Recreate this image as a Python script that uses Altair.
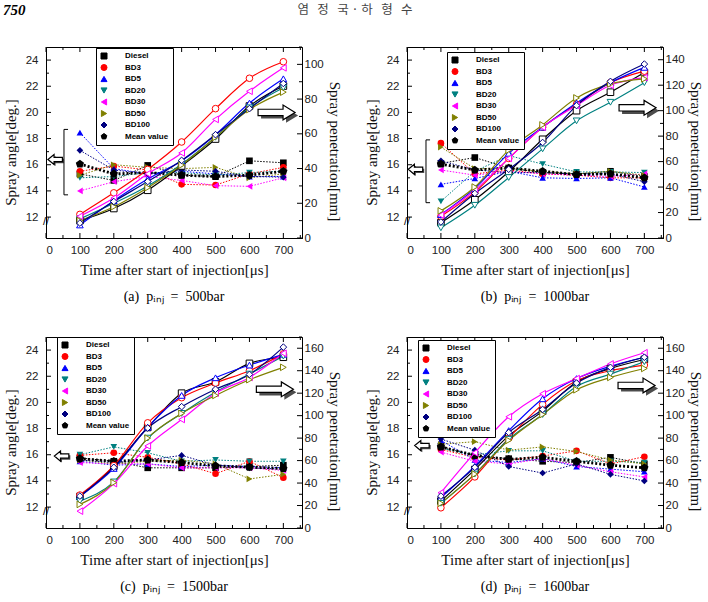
import altair as alt
import pandas as pd

TIME = [100, 200, 300, 400, 500, 600, 700]
X_TICKS = [0, 100, 200, 300, 400, 500, 600, 700]
X_MINOR = [50, 150, 250, 350, 450, 550, 650, 750]
ANGLE_TICKS = [12, 14, 16, 18, 20, 22, 24]
ANGLE_MINOR = [13, 15, 17, 19, 21, 23]
SERIES = ["Diesel", "BD3", "BD5", "BD20", "BD30", "BD50", "BD100", "Mean value"]
COLORS = ["#000000", "#ff0000", "#0000ff", "#008080", "#ff00ff", "#808000", "#000080", "#000000"]
PENT = "M0,-1L0.951,-0.309L0.588,0.809L-0.588,0.809L-0.951,-0.309Z"
SHAPES = ["square", "circle", "triangle-up", "triangle-down", "triangle-left",
          "triangle-right", "diamond", PENT]

# ---- (a) 500 bar ----
ANG_A = {
    "Diesel": [15.3, 14.8, 15.95, 15.2, 15.1, 16.3, 16.15],
    "BD3": [15.5, 15.9, 15.6, 14.5, 14.45, 15.3, 15.8],
    "BD5": [18.45, 15.7, 15.3, 15.5, 15.3, 15.1, 15.1],
    "BD20": [15.0, 15.1, 15.4, 15.4, 15.2, 15.4, 15.5],
    "BD30": [14.0, 14.7, 15.1, 14.8, 14.4, 14.35, 15.0],
    "BD50": [15.2, 16.0, 15.8, 15.7, 15.8, 15.0, 15.3],
    "BD100": [17.1, 15.6, 15.3, 15.6, 15.5, 15.1, 15.05],
}
MEAN_A = [16.05, 15.3, 15.4, 15.2, 15.1, 15.2, 15.5]
PEN_A = {
    "Diesel": [10, 17, 27.5, 41.5, 57, 76, 87.5],
    "BD3": [13.6, 26, 39.5, 55.3, 74.5, 92, 101.5],
    "BD5": [7.5, 21.5, 34, 44.5, 59.5, 77.7, 91.7],
    "BD20": [11, 20, 30, 42.5, 58, 75, 86.5],
    "BD30": [12.5, 23, 37, 49, 68.3, 84.5, 98],
    "BD50": [10, 18, 29, 42, 58, 74, 84],
    "BD100": [8.6, 21, 32.5, 44.7, 59.5, 74.5, 89],
}
# ---- (b) 1000 bar ----
ANG_B = {
    "Diesel": [16.1, 16.55, 15.75, 15.4, 15.3, 15.5, 15.1],
    "BD3": [17.65, 15.3, 15.6, 15.3, 15.2, 15.0, 15.0],
    "BD5": [14.5, 14.95, 15.5, 15.0, 14.95, 15.0, 14.3],
    "BD20": [13.2, 15.5, 16.7, 16.05, 15.45, 15.45, 15.4],
    "BD30": [15.6, 15.2, 15.5, 15.3, 15.2, 15.1, 15.3],
    "BD50": [17.35, 15.7, 15.7, 15.5, 15.3, 15.5, 15.2],
    "BD100": [16.3, 15.6, 15.4, 15.4, 15.3, 15.3, 14.7],
}
MEAN_B = [16.05, 15.6, 15.75, 15.5, 15.25, 15.3, 15.0]
PEN_B = {
    "Diesel": [12, 30, 52, 77.5, 100, 114.5, 130],
    "BD3": [17, 36, 62.5, 87, 105, 122, 131],
    "BD5": [18.4, 39, 66.5, 87, 106, 122, 134],
    "BD20": [8, 25.7, 47.5, 70, 92, 106.6, 122],
    "BD30": [18, 37.5, 62.5, 87, 104, 120, 126],
    "BD50": [21.3, 40, 69, 88.8, 110, 121, 125],
    "BD100": [12.6, 35, 54, 75, 104, 123, 136.6],
}
# ---- (c) 1500 bar ----
ANG_C = {
    "Diesel": [15.75, 15.5, 15.0, 15.0, 15.0, 15.1, 15.2],
    "BD3": [15.95, 16.15, 15.8, 15.3, 14.55, 15.5, 14.25],
    "BD5": [15.5, 15.2, 15.3, 15.1, 15.2, 15.1, 15.0],
    "BD20": [16.0, 16.6, 16.15, 15.5, 15.6, 15.5, 15.5],
    "BD30": [15.4, 15.3, 15.3, 15.0, 15.0, 15.0, 14.8],
    "BD50": [15.6, 15.3, 15.5, 15.6, 15.3, 14.15, 14.5],
    "BD100": [15.6, 15.4, 15.6, 15.95, 15.2, 15.0, 14.9],
}
MEAN_C = [15.7, 15.5, 15.6, 15.4, 15.15, 15.05, 14.95]
PEN_C = {
    "Diesel": [28, 55, 89.5, 120, 130, 146.5, 152],
    "BD3": [29.3, 55.5, 93.6, 116, 129, 140, 155],
    "BD5": [28, 53, 89.7, 118, 133.7, 145, 154.6],
    "BD20": [24, 41, 80, 102, 121, 137, 153],
    "BD30": [15, 39.5, 73, 96.6, 120, 134, 155.5],
    "BD50": [21, 40.4, 80, 102, 118, 132, 143],
    "BD100": [28.4, 54, 89, 108, 123.5, 136.7, 161],
}
# ---- (d) 1600 bar ----
ANG_D = {
    "Diesel": [16.65, 15.9, 15.7, 15.5, 15.4, 15.8, 15.3],
    "BD3": [16.4, 15.8, 15.6, 15.9, 16.3, 15.3, 15.85],
    "BD5": [17.1, 15.6, 15.4, 15.7, 15.1, 14.9, 14.7],
    "BD20": [16.5, 16.0, 16.3, 16.3, 15.5, 15.5, 15.4],
    "BD30": [16.2, 15.5, 15.3, 15.7, 15.2, 14.7, 14.3],
    "BD50": [16.8, 17.0, 16.35, 16.6, 16.25, 15.6, 15.3],
    "BD100": [17.2, 16.35, 15.1, 14.6, 15.3, 14.5, 14.0],
}
MEAN_D = [16.6, 15.95, 15.65, 15.8, 15.5, 15.2, 15.0]
PEN_D = {
    "Diesel": [24, 52, 82, 104, 130, 142, 150],
    "BD3": [18, 45.5, 80, 110, 131, 140, 145],
    "BD5": [27, 55, 86.7, 115, 133, 144, 152],
    "BD20": [22, 48, 79, 101, 126, 137, 148],
    "BD30": [31.4, 67, 99, 119.5, 133, 146, 156],
    "BD50": [22, 48, 78, 101, 123, 134, 142],
    "BD100": [28.4, 54, 85, 105.5, 129, 143, 152],
}

NB = "\u00a0"
CAPTIONS = [f"(a){NB*2}pᵢₙⱼ{NB*2}={NB*2}500bar", f"(b){NB*2}pᵢₙⱼ{NB*2}={NB*2}1000bar",
            f"(c){NB*2}pᵢₙⱼ{NB*2}={NB*2}1500bar", f"(d){NB*2}pᵢₙⱼ{NB*2}={NB*2}1600bar"]
HEADER_NUM = "750"
HEADER_NAMES = f"염{NB*3}정{NB*3}국{NB}·{NB}하{NB*3}형{NB*3}수"
PEN_TOPS = [110, 150, 170, 170]
PEN_TICKS = [[0, 20, 40, 60, 80, 100], [0, 20, 40, 60, 80, 100, 120, 140],
             list(range(0, 161, 20)), list(range(0, 161, 20))]
PEN_MINOR = [[10, 30, 50, 70, 90, 110], [10, 30, 50, 70, 90, 110, 130, 150],
             list(range(10, 171, 20)), list(range(10, 171, 20))]

RARROW = "M-1,-0.17L0.35,-0.17L0.35,-0.4L1,0L0.35,0.4L0.35,0.17L-1,0.17Z"
LARROW = "M1,-0.3L-0.15,-0.3L-0.15,-0.7L-1,0L-0.15,0.7L-0.15,0.3L1,0.3Z"

W, H = 256, 191


def long_df(d):
    rows = []
    for s, vals in d.items():
        for t, v in zip(TIME, vals):
            rows.append({"t": t, "s": s, "v": v})
    return pd.DataFrame(rows)


def tick_rules(vals, field, enc):
    df = pd.DataFrame({field: vals})
    return alt.Chart(df).mark_rule(color="black", strokeWidth=1).encode(**enc)


def panel(ang, mean, pen, pen_top, pen_ticks, pen_minor, caption, leg_xy, larrow,
          rarrow, bracket, header=False):
    adf = long_df(ang)
    mdf = pd.DataFrame({"t": TIME, "s": "Mean value", "v": mean})
    pdf = long_df(pen)

    x = alt.X("t:Q", scale=alt.Scale(domain=[0, 755], nice=False),
              axis=alt.Axis(values=X_TICKS, title="Time after start of injection[μs]",
                            titlePadding=7, labelPadding=6))
    leg = alt.Legend(title=None, orient="none", legendX=leg_xy[0], legendY=leg_xy[1])
    color = alt.Color("s:N", scale=alt.Scale(domain=SERIES, range=COLORS), legend=leg)
    shape = alt.Shape("s:N", scale=alt.Scale(domain=SERIES, range=SHAPES), legend=leg)
    ya = alt.Y("v:Q", scale=alt.Scale(domain=[10.4, 25.0], nice=False, zero=False),
               axis=alt.Axis(values=ANGLE_TICKS, orient="left", title="Spray angle[deg.]",
                             titlePadding=7, labelPadding=8, titleY=105))
    yp = alt.Y("v:Q", scale=alt.Scale(domain=[0, pen_top], nice=False),
               axis=alt.Axis(values=pen_ticks, orient="right",
                             title="Spray penetration[mm]", titlePadding=3, labelPadding=2,
                             titleY=104))

    a_lines = alt.Chart(adf).mark_line(strokeDash=[1.5, 1.5], strokeWidth=1).encode(
        x=x, y=ya, color=color)
    a_pts = alt.Chart(adf).mark_point(filled=True, size=44, opacity=1).encode(
        x=x, y=ya, color=color, shape=shape)
    m_line = alt.Chart(mdf).mark_line(strokeDash=[2, 2], strokeWidth=2.8).encode(
        x=x, y=ya, color=color)
    m_pts = alt.Chart(mdf).mark_point(filled=True, size=75, opacity=1).encode(
        x=x, y=ya, color=color, shape=shape)

    # inward tick marks
    ticks = [
        tick_rules(ANGLE_TICKS, "v", dict(y=ya, x=alt.value(0), x2=alt.value(5))),
        tick_rules(ANGLE_MINOR, "v", dict(y=ya, x=alt.value(0), x2=alt.value(3))),
        tick_rules(X_TICKS, "t", dict(x=x, y=alt.value(H), y2=alt.value(H - 5))),
        tick_rules(X_MINOR, "t", dict(x=x, y=alt.value(H), y2=alt.value(H - 3))),
        tick_rules(X_TICKS, "t", dict(x=x, y=alt.value(0), y2=alt.value(5))),
        tick_rules(X_MINOR, "t", dict(x=x, y=alt.value(0), y2=alt.value(3))),
    ]

    # annotation arrows / bracket (in data coords)
    la = pd.DataFrame({"t": [larrow[0]], "v": [larrow[1]]})
    ra = pd.DataFrame({"t": [rarrow[0]], "v": [rarrow[1]]})
    la_sh = alt.Chart(la).mark_point(shape=LARROW, size=210, filled=True, color="black",
                                     xOffset=1.5, yOffset=1.5).encode(x=x, y=ya)
    la_fg = alt.Chart(la).mark_point(shape=LARROW, size=210, filled=True, fill="white",
                                     stroke="black", strokeWidth=1.2, opacity=1).encode(x=x, y=ya)
    ra_sh = alt.Chart(ra).mark_point(shape=RARROW, size=1370, filled=True, color="black",
                                     xOffset=3, yOffset=3).encode(x=x, y=ya)
    ra_fg = alt.Chart(ra).mark_point(shape=RARROW, size=1370, filled=True, fill="white",
                                     stroke="black", strokeWidth=1.2, opacity=1).encode(x=x, y=ya)
    brk = alt.Chart(pd.DataFrame({"t": [0], "v": [11.65], "txt": ["//"]})).mark_text(
        fontSize=11, font="Liberation Sans", color="black").encode(x=x, y=ya, text="txt:N")

    layers = ticks + [a_lines, m_line, a_pts, m_pts, la_sh, la_fg, ra_sh, ra_fg, brk]
    if bracket is not None:
        bx, lo, hi = bracket
        bdf = pd.DataFrame({"t": [bx, bx, bx], "t2": [bx, bx + 12, bx + 12],
                            "v": [lo, hi, lo], "v2": [hi, hi, lo]})
        layers.append(alt.Chart(bdf).mark_rule(color="black", strokeWidth=1).encode(
            x=x, x2="t2:Q", y=ya, y2="v2:Q"))

    cap = alt.Chart(pd.DataFrame({"c": [caption]})).mark_text(
        font="Liberation Serif", fontSize=14, align="center", baseline="middle",
        color="black").encode(x=alt.value(W / 2), y=alt.value(250), text="c:N")
    layers.append(cap)
    if header:
        h1 = alt.Chart(pd.DataFrame({"c": [HEADER_NUM]})).mark_text(
            font="Liberation Serif", fontSize=15, fontWeight="bold", fontStyle="italic",
            align="left", baseline="middle", color="black").encode(
            x=alt.value(-43), y=alt.value(-37), text="c:N")
        h2 = alt.Chart(pd.DataFrame({"c": [HEADER_NAMES]})).mark_text(
            font="Noto Sans CJK KR", fontSize=12.5, align="center", baseline="middle",
            color="#444444").encode(x=alt.value(309), y=alt.value(-37), text="c:N")
        layers += [h1, h2]

    ang_layer = alt.layer(*layers)

    p_lines = alt.Chart(pdf).mark_line(interpolate="monotone", strokeWidth=1.2).encode(
        x=x, y=yp, color=color)
    p_pts = alt.Chart(pdf).mark_point(filled=False, fill="white", fillOpacity=1,
                                      size=44, strokeWidth=1, opacity=1).encode(
        x=x, y=yp, color=color, shape=shape)
    pen_layer = alt.layer(
        tick_rules(pen_ticks, "v", dict(y=yp, x=alt.value(W), x2=alt.value(W - 5))),
        tick_rules(pen_minor, "v", dict(y=yp, x=alt.value(W), x2=alt.value(W - 3))),
        p_lines, p_pts)

    return alt.layer(ang_layer, pen_layer).resolve_scale(y="independent").properties(
        width=W, height=H)


pa = panel(ANG_A, MEAN_A, PEN_A, PEN_TOPS[0], PEN_TICKS[0], PEN_MINOR[0], CAPTIONS[0],
           (50, 1), (27, 16.4), (680, 20.0), (53, 13.7, 18.7), header=True)
pb = panel(ANG_B, MEAN_B, PEN_B, PEN_TOPS[1], PEN_TICKS[1], PEN_MINOR[1], CAPTIONS[1],
           (40, 5), (25, 15.65), (680, 20.35), (56, 13.1, 17.9))
pc = panel(ANG_C, MEAN_C, PEN_C, PEN_TOPS[2], PEN_TICKS[2], PEN_MINOR[2], CAPTIONS[2],
           (11, 0), (46, 15.9), (675, 21.0), None)
pd_ = panel(ANG_D, MEAN_D, PEN_D, PEN_TOPS[3], PEN_TICKS[3], PEN_MINOR[3], CAPTIONS[3],
            (11, 3), (44, 16.7), (677, 21.3), None)

chart = alt.concat(pa, pb, pc, pd_, columns=2, spacing={"row": 99, "column": 105},
                   bounds="flush").resolve_scale(
    color="independent", shape="independent").properties(
    padding={"left": 46, "top": 47, "right": 662, "bottom": 555},
    autosize=alt.AutoSizeParams(type="none"),
    background="white",
).configure_view(stroke="black", strokeWidth=1).configure_axis(
    grid=False, labelFont="Liberation Sans", labelFontSize=11.5, labelColor="#222222",
    titleFont="Liberation Serif", titleFontSize=15, titleFontWeight="normal",
    titleColor="#111111", domainColor="black", ticks=False,
).configure_legend(
    labelFont="Liberation Sans", labelFontSize=8, labelFontWeight="bold",
    labelColor="black", strokeColor="black", fillColor="white", padding=4,
    rowPadding=1.5, symbolSize=36, symbolStrokeWidth=1, labelOffset=17,
)

chart.save("out.html", embed_options={"renderer": "svg", "actions": False})
